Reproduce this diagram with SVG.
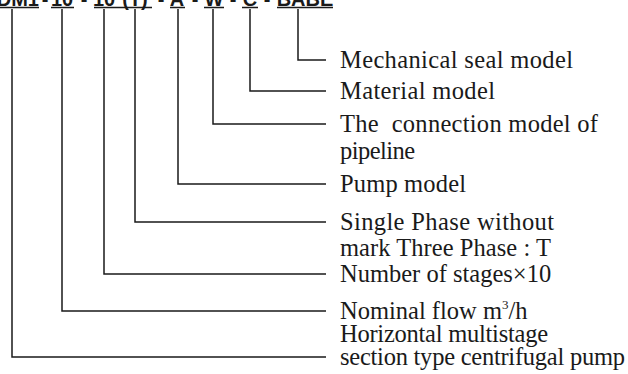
<svg xmlns="http://www.w3.org/2000/svg" width="628" height="374" viewBox="0 0 628 374">
<style>
.code{font-family:"Liberation Sans",Arial,sans-serif;font-weight:bold;font-size:20px;fill:#1a1a1a;text-anchor:middle}
.ul{stroke:#1a1a1a;stroke-width:1.6;fill:none}
.lbl{font-family:"Liberation Serif","Times New Roman",serif;font-size:24.5px;fill:#1a1a1a}
.conn{stroke:#1a1a1a;stroke-width:1.5;fill:none}
</style>
<rect width="628" height="374" fill="#ffffff"/>
<g id="code">
<text class="code" x="39" y="5.5" style="text-anchor:end">DM1</text>
<text class="code" x="45" y="5.5">-</text>
<text class="code" x="62" y="5.5">10</text>
<text class="code" x="84" y="5.5">-</text>
<text class="code" x="104" y="5.5">10</text>
<text class="code" x="135" y="5.5">(T)</text>
<text class="code" x="161" y="5.5">-</text>
<text class="code" x="177" y="5.5">A</text>
<text class="code" x="195" y="5.5">-</text>
<text class="code" x="214" y="5.5">W</text>
<text class="code" x="233" y="5.5">-</text>
<text class="code" x="250" y="5.5">C</text>
<text class="code" x="267" y="5.5">-</text>
<text class="code" x="305" y="5.5">BABE</text>
<path class="ul" d="M0,7.5H39M51,7.5H74M94,7.5H152M170,7.5H185M204,7.5H224M242,7.5H258M277,7.5H333"/>
</g>
<g id="connectors">
<path class="conn" d="M298,9V60H326"/>
<path class="conn" d="M250,9V91H326"/>
<path class="conn" d="M213,9V124H326"/>
<path class="conn" d="M178,9V184H326"/>
<path class="conn" d="M135,9V222H326"/>
<path class="conn" d="M104,9V274H326"/>
<path class="conn" d="M62,9V311H326"/>
<path class="conn" d="M12,9V357H326"/>
</g>
<g id="seal"><text class="lbl" x="340" y="68" textLength="233">Mechanical seal model</text></g>
<g id="material"><text class="lbl" x="340" y="99" textLength="155">Material model</text></g>
<g id="connection">
<text class="lbl" x="340" y="132" textLength="258" xml:space="preserve">The  connection model of</text>
<text class="lbl" x="340" y="159" textLength="75">pipeline</text>
</g>
<g id="pump"><text class="lbl" x="340" y="192" textLength="126">Pump model</text></g>
<g id="phase">
<text class="lbl" x="340" y="230" textLength="214">Single Phase without</text>
<text class="lbl" x="340" y="256" textLength="211">mark Three Phase : T</text>
</g>
<g id="stages"><text class="lbl" x="340" y="282">Number of stages×10</text></g>
<g id="flow"><text class="lbl" x="340" y="319">Nominal flow m<tspan font-size="13" dy="-10">3</tspan><tspan dy="10">/h</tspan></text></g>
<g id="type">
<text class="lbl" x="340" y="342" textLength="208">Horizontal multistage</text>
<text class="lbl" x="340" y="365" textLength="285">section type centrifugal pump</text>
</g>
</svg>
